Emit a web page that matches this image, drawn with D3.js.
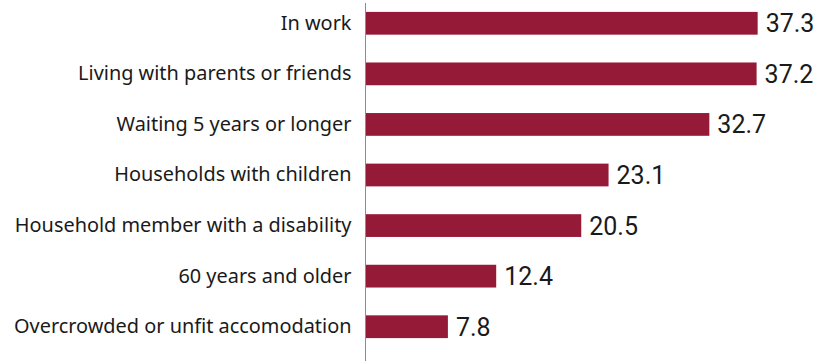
<!DOCTYPE html>
<html>
<head>
<meta charset="utf-8">
<script src="https://cdn.jsdelivr.net/npm/d3@7"></script>
<style>
  html, body { margin: 0; padding: 0; background: #fff; }
  svg { display: block; }
  .cat text { font-family: "Noto Sans", "Open Sans", sans-serif; font-size: 19.9px; fill: #1a1a1a; }
  .val { font-family: "Liberation Sans Narrow", Roboto, sans-serif; font-size: 25px; fill: #1a1a1a; }
</style>
</head>
<body>
<svg id="chart" width="821" height="361"></svg>
<script>
const categories = [
  "In work",
  "Living with parents or friends",
  "Waiting 5 years or longer",
  "Households with children",
  "Household member with a disability",
  "60 years and older",
  "Overcrowded or unfit accomodation"
];
const values = [37.3, 37.2, 32.7, 23.1, 20.5, 12.4, 7.8];

const svg = d3.select("#chart");
const x0 = 366;

const x = d3.scaleLinear().domain([0, 40]).range([x0, x0 + 420]);
const y = d3.scaleBand().domain(categories).range([-2, 352]).paddingInner(0.55).paddingOuter(0.275);

// bars
svg.selectAll("rect.bar")
  .data(values)
  .join("rect")
  .attr("class", "bar")
  .attr("x", x(0))
  .attr("y", (d, i) => y(categories[i]))
  .attr("width", d => x(d) - x(0))
  .attr("height", y.bandwidth())
  .attr("fill", "#951a37");

// category axis
const yAxis = d3.axisLeft(y).tickSize(0).tickPadding(14);
const g = svg.append("g").attr("class", "cat").attr("transform", `translate(${x0 - 0.5},0)`).call(yAxis);
g.select(".domain").remove();
g.selectAll("text").attr("fill", "#1a1a1a").attr("font-family", null).attr("font-size", null);

svg.append("line")
  .attr("x1", x0 - 0.5).attr("x2", x0 - 0.5)
  .attr("y1", 3).attr("y2", 361)
  .attr("stroke", "#8c8c8c").attr("stroke-width", 1);

// value labels
svg.selectAll("text.val")
  .data(values)
  .join("text")
  .attr("class", "val")
  .attr("x", d => x(d) + 8)
  .attr("y", (d, i) => y(categories[i]) + y.bandwidth() / 2)
  .attr("dy", "0.36em")
  .text(d => d.toFixed(1));
</script>
</body>
</html>
